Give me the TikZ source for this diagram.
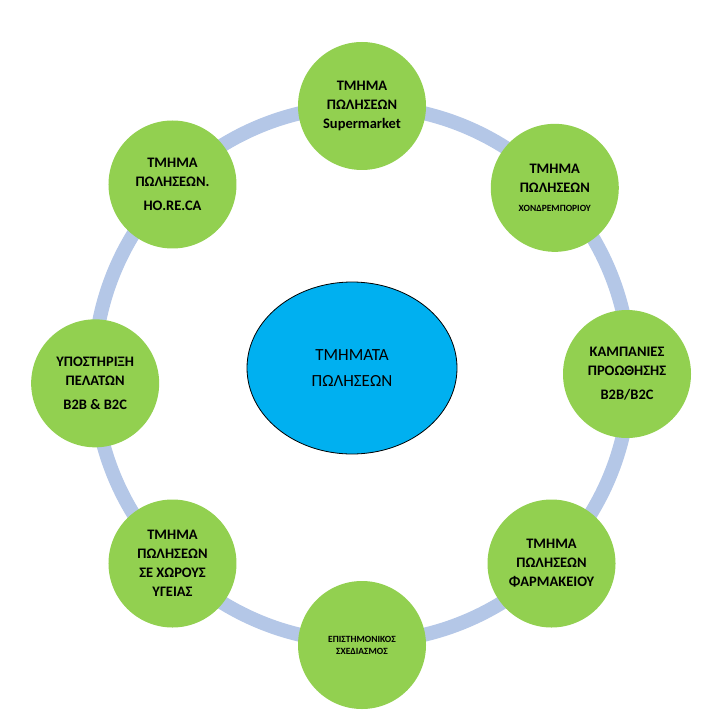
\documentclass[tikz,border=0pt]{standalone}
\usepackage{fontspec}
\setmainfont{Carlito}
\usetikzlibrary{shapes.geometric}
\definecolor{ringblue}{RGB}{180,199,231}
\definecolor{leafgreen}{RGB}{146,208,80}
\definecolor{hubblue}{RGB}{0,176,240}
\tikzset{
  leaf/.style={circle,fill=leafgreen,minimum size=128pt,inner sep=0pt,align=center,font=\bfseries\fontsize{14.5}{19}\selectfont},
  hub/.style={ellipse,draw=black,line width=0.8pt,fill=hubblue,minimum width=210pt,minimum height=172pt,align=center,font=\fontsize{17}{26}\selectfont},
  tiny/.style={font=\bfseries\fontsize{9.5}{12}\selectfont}
}
\begin{document}
\begin{tikzpicture}[x=1pt,y=-1pt]
\useasboundingbox (0,0) rectangle (722,722);
\coordinate (c) at (362,374);
% ring
\draw [ringblue,line width=14pt] (c) circle (268);
% satellites
\node[leaf] (super) at ([shift={(-90:268)}]c) {ΤΜΗΜΑ\\ΠΩΛΗΣΕΩΝ\\Supermarket};
\node[leaf] (chondr) at ([shift={(-44:268)}]c) {ΤΜΗΜΑ\\ΠΩΛΗΣΕΩΝ\\{\fontsize{9.5}{12}\selectfont ΧΟΝΔΡΕΜΠΟΡΙΟΥ}};
\node[leaf] (kamp) at ([shift={(0:265)}]c) {ΚΑΜΠΑΝΙΕΣ\\ΠΡΟΩΘΗΣΗΣ\\[5pt]B2B/B2C};
\node[leaf] (farm) at ([shift={(45:268)}]c) {ΤΜΗΜΑ\\ΠΩΛΗΣΕΩΝ\\ΦΑΡΜΑΚΕΙΟΥ};
\node[leaf,tiny] (epist) at ([shift={(90:271)}]c) {ΕΠΙΣΤΗΜΟΝΙΚΟΣ\\ΣΧΕΔΙΑΣΜΟΣ};
\node[leaf] (ygeia) at ([shift={(135:268)}]c) {ΤΜΗΜΑ\\ΠΩΛΗΣΕΩΝ\\ΣΕ ΧΩΡΟΥΣ\\ΥΓΕΙΑΣ};
\node[leaf] (ypost) at ([shift={(178:267)}]c) {ΥΠΟΣΤΗΡΙΞΗ\\ΠΕΛΑΤΩΝ\\[5pt]B2B \& B2C};
\node[leaf] (horeca) at ([shift={(-135:268)}]c) {ΤΜΗΜΑ\\ΠΩΛΗΣΕΩΝ.\\[5pt]HO.RE.CA};
% hub
\node[hub] (hub) at (352,368) {ΤΜΗΜΑΤΑ\\ΠΩΛΗΣΕΩΝ};
\end{tikzpicture}
\end{document}
